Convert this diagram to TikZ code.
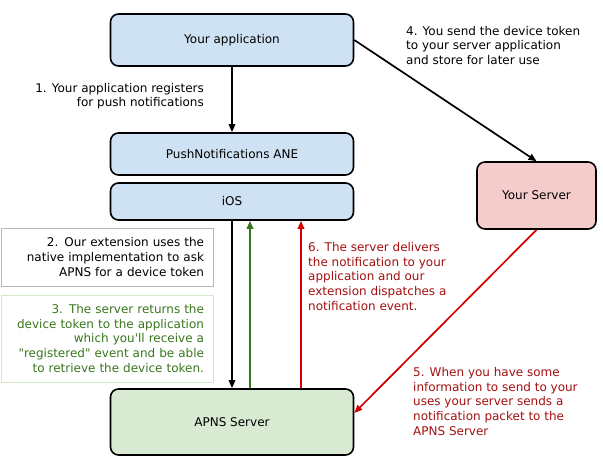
\documentclass[tikz,border=0pt]{standalone}
\usepackage{fontspec}
\setmainfont{DejaVu Sans}[Ligatures=TeXOff]
\usetikzlibrary{arrows.meta}
\definecolor{boxblue}{HTML}{CFE2F3}
\definecolor{boxred}{HTML}{F4CCCC}
\definecolor{boxgreen}{HTML}{D9EAD3}
\definecolor{notegray}{HTML}{B7B7B7}
\definecolor{noteline}{HTML}{D3E7CB}
\definecolor{darkgreen}{HTML}{38761D}
\definecolor{darkred}{HTML}{A30F0F}
\definecolor{arrowred}{HTML}{D40000}
\newcommand{\labelfont}{\fontsize{12}{14.6}\selectfont}
\tikzset{
  stage/.style={draw=black, line width=1.6pt, rounded corners=8pt, font=\labelfont,
    minimum width=243pt, inner sep=0pt},
  note/.style={line width=0.8pt, font=\labelfont, align=right, text width=194pt,
    inner xsep=9pt, inner ysep=0pt, minimum width=212pt},
  flow/.style={line width=1.7pt, -{Triangle[length=8pt,width=6.5pt]}},
  steptext/.style={font=\labelfont, inner sep=0pt},
}

\begin{document}
\begin{tikzpicture}[x=1pt,y=-1pt]
    \useasboundingbox (0,0) rectangle (603,457);
    % Boxes
    \node[stage, fill=boxblue, minimum height=52pt] (app) at (232,40) {Your application};
    \node[stage, fill=boxblue, minimum height=42pt] (ane) at (232,154) {PushNotifications ANE};
    \node[stage, fill=boxblue, minimum height=37pt] (ios) at (232,201.5) {iOS};
    \node[stage, fill=boxred, minimum width=119pt, minimum height=67pt] (server) at (536.5,195.5) {Your Server};
    \node[stage, fill=boxgreen, minimum height=66pt] (apns) at (232,422) {APNS Server};
    % Notes on the left
    \node[note, draw=notegray, minimum height=58pt] (note2) at (107,257)
      {2. Our extension uses the\\native implementation to ask\\APNS for a device token};
    \node[note, draw=noteline, text=darkgreen, minimum height=87pt] (note3) at (107,338.5)
      {3. The server returns the\\device token to the application\\which you'll receive a\\"registered" event and be able\\to retrieve the device token.};
    % Arrows
    \draw[flow] (app) to (ane);
    \draw[flow] (app.east) to (server.north);
    \draw[flow] (ios) to (apns);
    \draw[flow, darkgreen] ([xshift=18pt]apns.north) to ([xshift=18pt]ios.south);
    \draw[flow, arrowred] ([xshift=69pt]apns.north) to ([xshift=69pt]ios.south);
    \draw[flow, arrowred] (server.south) to ([yshift=9pt]apns.east);
    % Step labels
    \node[steptext, align=right, anchor=east] (step1) at (204,96)
      {1. Your application registers\\for push notifications};
    \node[steptext, align=left, anchor=west] (step4) at (406,45.5)
      {4. You send the device token\\to your server application\\and store for later use};
    \node[steptext, align=left, anchor=west, text=darkred] (step6) at (308,276.5)
      {6. The server delivers\\the notification to your\\application and our\\extension dispatches a\\notification event.};
    \node[steptext, align=left, anchor=west, text=darkred] (step5) at (413,401.5)
      {5. When you have some\\information to send to your\\uses your server sends a\\notification packet to the\\APNS Server};
\end{tikzpicture}
\end{document}
